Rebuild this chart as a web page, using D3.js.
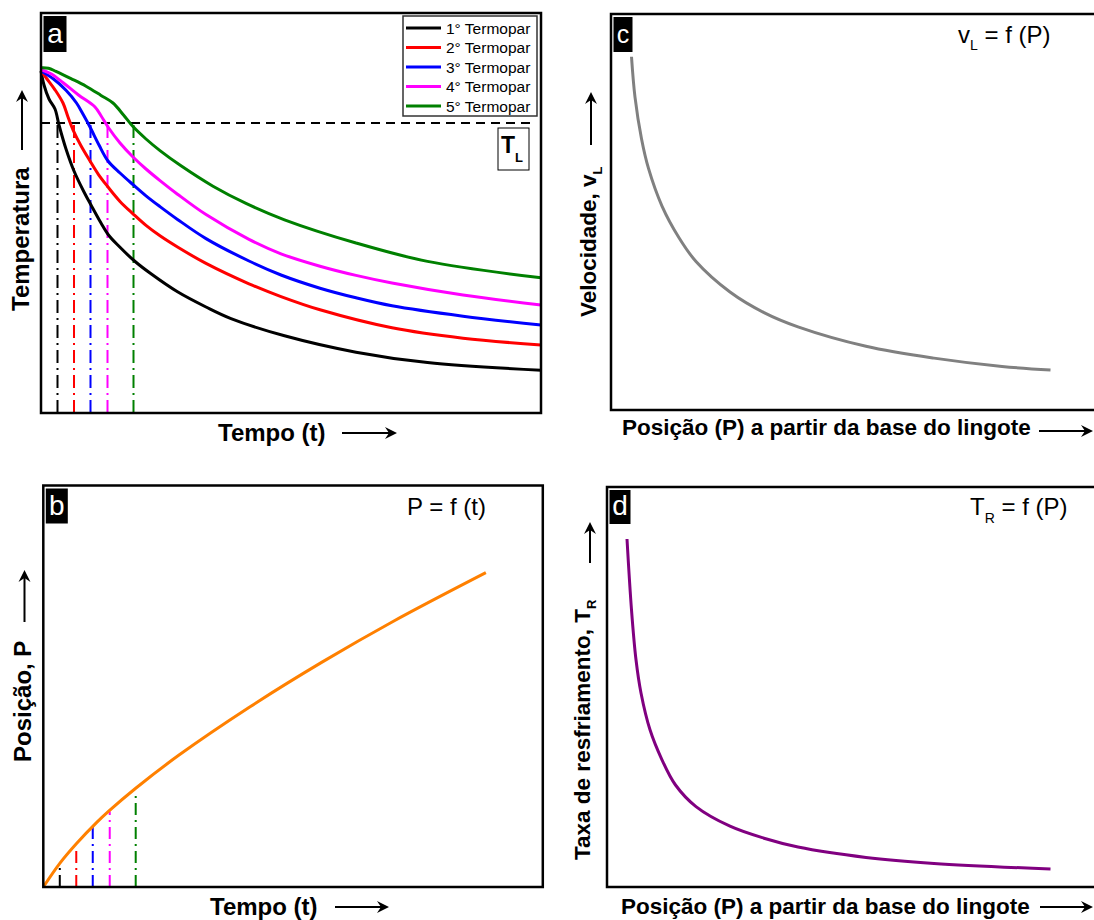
<!DOCTYPE html>
<html>
<head>
<meta charset="utf-8">
<script src="https://cdn.jsdelivr.net/npm/d3@7"></script>
<style>
  body { margin: 0; background: #fff; }
  text { font-family: "Liberation Sans", Arial, sans-serif; }
</style>
</head>
<body>
<script>
// ---- data (arbitrary units 0..100) ----
var seriesNames = ["1° Termopar", "2° Termopar", "3° Termopar", "4° Termopar", "5° Termopar"];
var seriesColors = ["#000000", "#ff0000", "#0000ff", "#ff00ff", "#008000"];

var termopar1 = [[0,85.5],[0.6,82],[1.6,78.5],[2.8,76],[3.6,72],[5,66],[6.6,60.5],[8.5,55.5],[10,52],[12,47.5],[13.5,44.5],[15.5,41.8],[18.7,38],[22,34.8],[27.3,30.3],[33,26.5],[38,23.6],[48.7,19.3],[63,15.2],[77.3,12.6],[100,10.7]];
var termopar2 = [[0,85.5],[1.2,83.5],[2.8,80.8],[4.4,77.5],[5.4,74],[6.4,70.8],[8,66.8],[9.8,63],[11.5,59.6],[13.4,56.5],[15.8,52.9],[18.4,49.8],[21,46.9],[23.8,44.3],[27.3,41.5],[33,37.4],[41.6,32.3],[48,29.1],[55.8,25.8],[70.2,21.3],[84.4,18.7],[100,17]];
var termopar3 = [[0,85.5],[2.5,83.5],[5,80.7],[7.1,77.5],[8.5,74.5],[9.8,71.5],[11.6,67],[13.4,63],[15.8,60],[18.4,57.1],[21,54.3],[23.8,51.6],[27.3,48.4],[33,43.6],[41.6,38],[48,34.5],[55.8,31.2],[63,28.8],[70.2,26.8],[84.4,24.2],[100,22]];
var termopar4 = [[0,85.8],[2,84.8],[4.5,82.5],[7.5,79.5],[10.8,76.5],[12,74.3],[13.4,71.5],[15.8,67.5],[18.4,64],[21,61],[23.8,58.1],[27.3,54.7],[33,49.6],[41.6,43.4],[48,39.8],[55.8,36.7],[63,34.4],[70.2,32.5],[84.4,29.5],[100,27]];
var termopar5 = [[0,86.3],[1.5,86.2],[3,85.4],[6,83.6],[9,81.7],[12,79.4],[14.4,77.5],[16.5,74.5],[18.4,71.6],[21,68.5],[23.8,65.6],[28,61.8],[34.4,56.7],[41,52.4],[48.7,48.3],[63,42.5],[77.3,37.9],[100,33.8]];
var liquidusT = 72.5;
var liquidusTimes = [3.3, 6.6, 9.9, 13.3, 18.5];

var position = [[0,0],[3.3,5.9],[6.7,10.9],[10.7,16.1],[13.1,18.9],[18.5,24.6],[27.1,32.8],[41.4,44.9],[55.8,56],[70.1,66.2],[88.6,78.3]];
var positionAtTL = [5.2, 10, 15, 18.8, 23.6];

var velocity = [[4.1,89.2],[4.8,79],[6.1,68.5],[7.5,61],[10.2,51.5],[13.6,43.5],[17,37.5],[23.8,29.8],[30.6,24.6],[37.4,21],[51,16.1],[64.6,13.1],[78.2,11],[87.9,10.1]];
var coolingRate = [[4,87],[4.9,69.3],[5.8,56.8],[6.8,48.5],[8.6,39.3],[11,31.8],[13.7,25.5],[17.8,20.1],[24.6,15.2],[31.4,12.2],[38.2,10],[51.8,7.4],[65.4,5.9],[88.7,4.5]];

var svg = d3.select("body").append("svg").attr("width", 1094).attr("height", 920);

function panel(x0, y0, w, h) {
  var g = svg.append("g").attr("transform", "translate(" + x0 + "," + y0 + ")");
  var x = d3.scaleLinear().domain([0, 100]).range([0, w]);
  var y = d3.scaleLinear().domain([0, 100]).range([h, 0]);
  return { g: g, x: x, y: y, w: w, h: h };
}

function frame(p) {
  p.g.append("rect").attr("width", p.w).attr("height", p.h)
    .attr("fill", "none").attr("stroke", "#000").attr("stroke-width", 2.5);
}

function letter(p, txt, bw, bh, fs) {
  p.g.append("rect").attr("x", 2.5).attr("y", 3).attr("width", bw).attr("height", bh).attr("fill", "#000");
  p.g.append("text").attr("x", 2.5 + bw / 2).attr("y", 3 + bh - 9).attr("text-anchor", "middle")
    .attr("fill", "#fff").attr("font-size", fs).text(txt);
}

function hArrow(x1, x2, y) {
  svg.append("line").attr("x1", x1).attr("x2", x2 - 7).attr("y1", y).attr("y2", y)
    .attr("stroke", "#000").attr("stroke-width", 2);
  svg.append("path").attr("d", "M" + x2 + "," + y + "L" + (x2 - 12) + "," + (y - 6) + "L" + (x2 - 8) + "," + y + "L" + (x2 - 12) + "," + (y + 6) + "Z")
    .attr("fill", "#000");
}
function vArrow(x, y1, y2) {
  svg.append("line").attr("x1", x).attr("x2", x).attr("y1", y1).attr("y2", y2 + 7)
    .attr("stroke", "#000").attr("stroke-width", 2);
  svg.append("path").attr("d", "M" + x + "," + y2 + "L" + (x - 6) + "," + (y2 + 12) + "L" + x + "," + (y2 + 8) + "L" + (x + 6) + "," + (y2 + 12) + "Z")
    .attr("fill", "#000");
}

function lineGen(p) {
  return d3.line().x(function (d) { return p.x(d[0]); }).y(function (d) { return p.y(d[1]); })
    .curve(d3.curveCatmullRom.alpha(0.5));
}

// ---- panel a ----
var pa = panel(41, 13, 500, 400);
liquidusTimes.forEach(function (t, i) {
  pa.g.append("line").attr("x1", pa.x(t)).attr("x2", pa.x(t)).attr("y1", pa.y(0)).attr("y2", pa.y(liquidusT))
    .attr("stroke", seriesColors[i]).attr("stroke-width", 2).attr("stroke-dasharray", "13,5,2,5");
});
pa.g.append("line").attr("x1", 0).attr("x2", 491).attr("y1", pa.y(liquidusT)).attr("y2", pa.y(liquidusT))
  .attr("stroke", "#000").attr("stroke-width", 2).attr("stroke-dasharray", "9,6");
[termopar1, termopar2, termopar3, termopar4, termopar5].forEach(function (s, i) {
  pa.g.append("path").datum(s).attr("d", lineGen(pa)).attr("fill", "none")
    .attr("stroke", seriesColors[i]).attr("stroke-width", 3);
});
frame(pa);
letter(pa, "a", 23, 36, 28);
var leg = pa.g.append("g");
leg.append("rect").attr("x", 362).attr("y", 3).attr("width", 134).attr("height", 100)
  .attr("fill", "#fff").attr("stroke", "#333").attr("stroke-width", 1.5);
seriesNames.forEach(function (n, i) {
  var yy = 15 + i * 19.5;
  leg.append("line").attr("x1", 365).attr("x2", 400).attr("y1", yy).attr("y2", yy)
    .attr("stroke", seriesColors[i]).attr("stroke-width", 3);
  leg.append("text").attr("x", 405).attr("y", yy + 5.5).attr("font-size", 15.5).text(n);
});
pa.g.append("rect").attr("x", 457).attr("y", 115).attr("width", 31).attr("height", 42)
  .attr("fill", "#fff").attr("stroke", "#000").attr("stroke-width", 1);
var tl = pa.g.append("text").attr("x", 460).attr("y", 140).attr("font-size", 23).attr("font-weight", "bold");
tl.append("tspan").text("T");
tl.append("tspan").attr("font-size", 13).attr("dy", 9).text("L");

svg.append("text").attr("x", 218).attr("y", 441).attr("font-size", 24).attr("font-weight", "bold").text("Tempo (t)");
hArrow(342, 397, 433);
svg.append("text").attr("transform", "translate(29,311) rotate(-90)").attr("font-size", 24).attr("font-weight", "bold").text("Temperatura");
vArrow(22, 150, 90);

// ---- panel b ----
var pb = panel(43.3, 485.5, 499.5, 401.5);
liquidusTimes.forEach(function (t, i) {
  pb.g.append("line").attr("x1", pb.x(t)).attr("x2", pb.x(t)).attr("y1", pb.y(0)).attr("y2", pb.y(positionAtTL[i]))
    .attr("stroke", seriesColors[i]).attr("stroke-width", 2).attr("stroke-dasharray", "12,5,2,5");
});
pb.g.append("path").datum(position).attr("d", lineGen(pb)).attr("fill", "none")
  .attr("stroke", "#ff8000").attr("stroke-width", 3);
frame(pb);
letter(pb, "b", 22, 35, 28);
svg.append("text").attr("x", 407).attr("y", 515).attr("font-size", 24).text("P = f (t)");
svg.append("text").attr("x", 210).attr("y", 915).attr("font-size", 24).attr("font-weight", "bold").text("Tempo (t)");
hArrow(335, 389, 907);
svg.append("text").attr("transform", "translate(31,762) rotate(-90)").attr("font-size", 24).attr("font-weight", "bold").text("Posição, P");
vArrow(24.5, 622, 570);

// ---- panel c ----
var pc = panel(611, 14, 500, 396);
pc.g.append("path").datum(velocity).attr("d", lineGen(pc)).attr("fill", "none")
  .attr("stroke", "#808080").attr("stroke-width", 3);
frame(pc);
letter(pc, "c", 19, 35, 25);
var tc = svg.append("text").attr("x", 958).attr("y", 43).attr("font-size", 24);
tc.append("tspan").text("v");
tc.append("tspan").attr("font-size", 14).attr("dy", 7).text("L");
tc.append("tspan").attr("dy", -7).text(" = f (P)");
svg.append("text").attr("x", 622).attr("y", 435).attr("font-size", 22.5).attr("font-weight", "bold").text("Posição (P) a partir da base do lingote");
hArrow(1039, 1093, 431);
var yc = svg.append("text").attr("transform", "translate(596,317) rotate(-90)").attr("font-size", 22.5).attr("font-weight", "bold");
yc.append("tspan").text("Velocidade, v");
yc.append("tspan").attr("font-size", 13).attr("dy", 6).text("L");
vArrow(591, 145, 92);

// ---- panel d ----
var pd = panel(607, 487, 500, 400);
pd.g.append("path").datum(coolingRate).attr("d", lineGen(pd)).attr("fill", "none")
  .attr("stroke", "#800080").attr("stroke-width", 3);
frame(pd);
letter(pd, "d", 21, 34, 28);
var td = svg.append("text").attr("x", 970).attr("y", 515).attr("font-size", 24);
td.append("tspan").text("T");
td.append("tspan").attr("font-size", 14).attr("dy", 8).text("R");
td.append("tspan").attr("dy", -8).text(" = f (P)");
svg.append("text").attr("x", 621).attr("y", 914).attr("font-size", 22.5).attr("font-weight", "bold").text("Posição (P) a partir da base do lingote");
hArrow(1040, 1093, 907);
var ydl = svg.append("text").attr("transform", "translate(590,860) rotate(-90)").attr("font-size", 22.5).attr("font-weight", "bold");
ydl.append("tspan").text("Taxa de resfriamento, T");
ydl.append("tspan").attr("font-size", 13).attr("dy", 6).text("R");
vArrow(590, 563, 522);
</script>
</body>
</html>
